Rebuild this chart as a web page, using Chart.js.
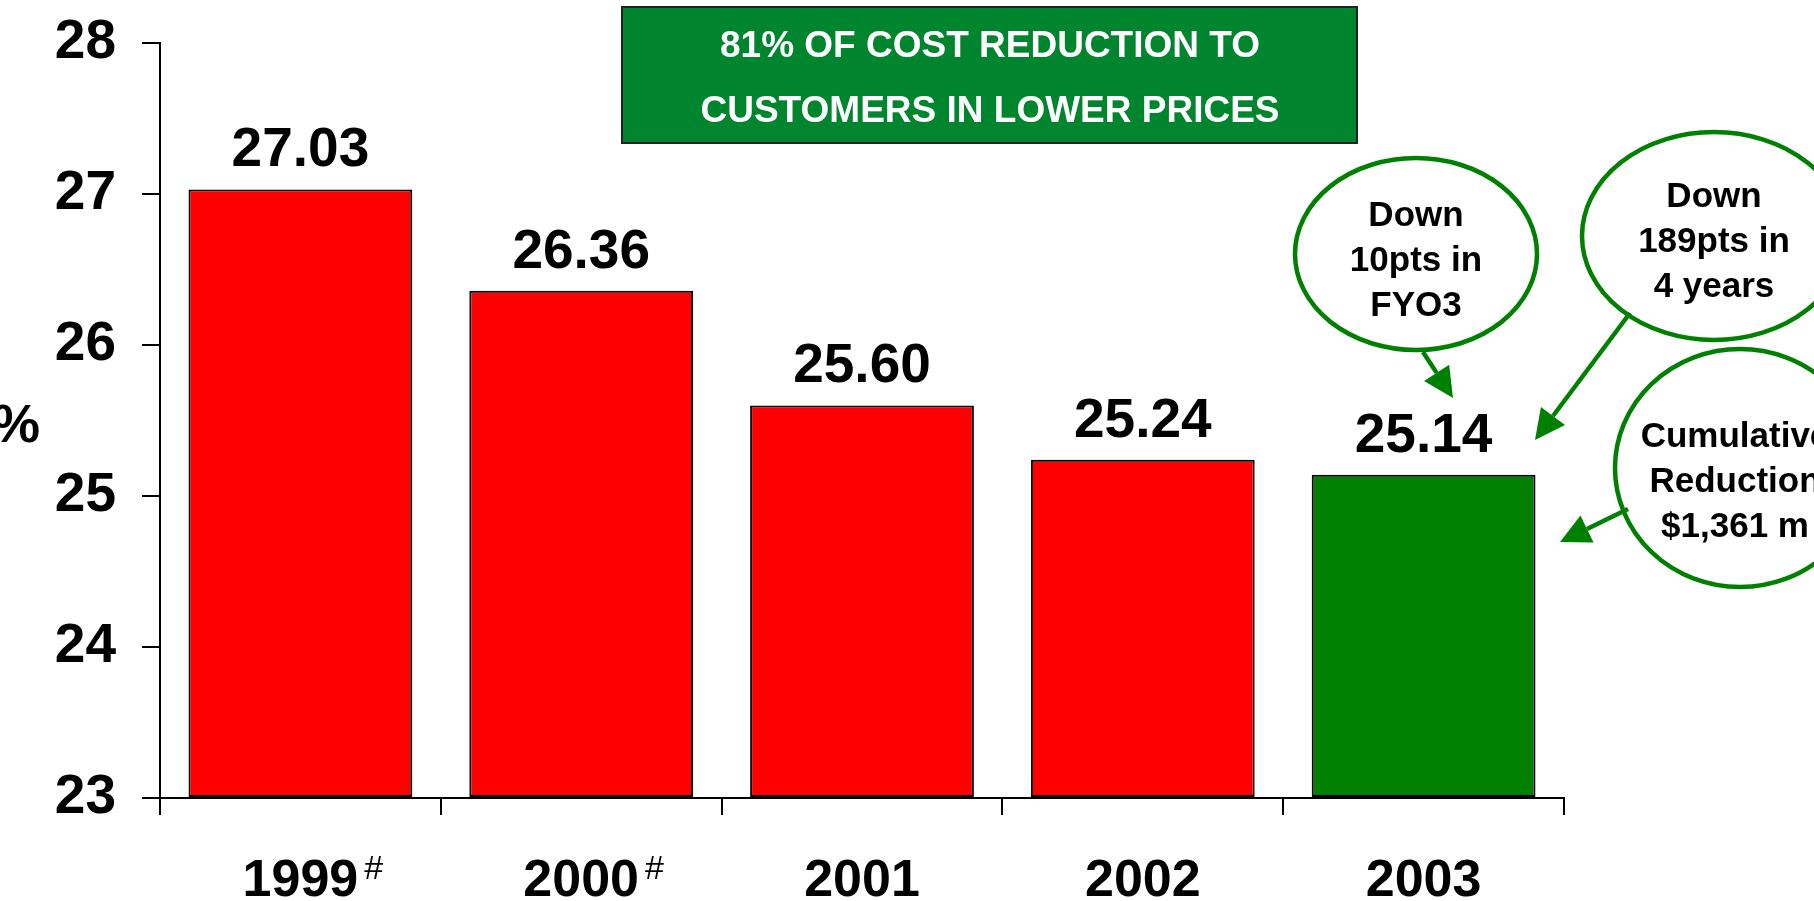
<!DOCTYPE html>
<html>
<head>
<meta charset="utf-8">
<script src="https://cdn.jsdelivr.net/npm/chart.js@4/dist/chart.umd.min.js"></script>
<style>
  html, body { margin: 0; padding: 0; background: #ffffff; }
  canvas { display: block; }
</style>
</head>
<body>
<canvas id="grafico" width="1814" height="901"></canvas>
<script>
// cost ratio by financial year
const anos = ['1999', '2000', '2001', '2002', '2003'];
const comNota = ['1999', '2000'];
const custo = [27.03, 26.36, 25.60, 25.24, 25.14];
const eixoMin = 23;
const eixoMax = 28;

const titulo = ['81% OF COST REDUCTION TO', 'CUSTOMERS IN LOWER PRICES'];
const baloes = [
    ['Down', '10pts in', 'FYO3'],
    ['Down', '189pts in', '4 years'],
    ['Cumulative', 'Reduction', '$1,361 m']
];

const FONTE = '"Liberation Sans", Arial, sans-serif';
const VERMELHO = '#ff0000';
const VERDE = '#008000';
const VERDE_CAIXA = '#00852f';

function seta(ctx, x1, y1, x2, y2) {
    const ang = Math.atan2(y2 - y1, x2 - x1);
    const comp = 30, larg = 15;
    const bx = x2 - comp * Math.cos(ang), by = y2 - comp * Math.sin(ang);
    ctx.beginPath();
    ctx.moveTo(x1, y1);
    ctx.lineTo(bx, by);
    ctx.stroke();
    ctx.beginPath();
    ctx.moveTo(x2, y2);
    ctx.lineTo(bx + larg * Math.sin(ang), by - larg * Math.cos(ang));
    ctx.lineTo(bx - larg * Math.sin(ang), by + larg * Math.cos(ang));
    ctx.closePath();
    ctx.fill();
}

function balao(ctx, cx, cy, rx, ry, linhas, tx, base0) {
    ctx.strokeStyle = VERDE;
    ctx.beginPath();
    ctx.ellipse(cx, cy, rx, ry, 0, 0, Math.PI * 2);
    ctx.stroke();
    ctx.fillStyle = '#000';
    ctx.font = 'bold 35px ' + FONTE;
    ctx.textAlign = 'center';
    ctx.textBaseline = 'alphabetic';
    linhas.forEach((l, i) => ctx.fillText(l, tx, base0 + i * 45));
}

const extras = {
    id: 'extras',
    afterDraw(chart) {
        const ctx = chart.ctx;
        const meta = chart.getDatasetMeta(0);
        const x = chart.scales.x;
        ctx.save();

        // valores em cima das barras
        ctx.fillStyle = '#000';
        ctx.font = 'bold 55px ' + FONTE;
        ctx.textAlign = 'center';
        ctx.textBaseline = 'alphabetic';
        meta.data.forEach((bar, i) => {
            ctx.fillText(custo[i].toFixed(2), bar.x, bar.y - 23);
        });

        // nota # nos anos marcados
        anos.forEach((ano, i) => {
            if (!comNota.includes(ano)) return;
            ctx.font = 'bold 52px ' + FONTE;
            const w = ctx.measureText(ano).width;
            ctx.font = '34px ' + FONTE;
            ctx.textAlign = 'left';
            ctx.fillText('#', x.getPixelForTick(i) + w / 2 + 6, 879);
        });

        // unidade do eixo
        ctx.font = 'bold 54px ' + FONTE;
        ctx.textAlign = 'right';
        ctx.fillText('%', 40, 442);

        // caixa do título
        ctx.fillStyle = VERDE_CAIXA;
        ctx.fillRect(622, 7, 735, 136);
        ctx.strokeStyle = '#222';
        ctx.lineWidth = 2;
        ctx.strokeRect(622, 7, 735, 136);
        ctx.fillStyle = '#fff';
        ctx.font = 'bold 37px ' + FONTE;
        ctx.textAlign = 'center';
        ctx.fillText(titulo[0], 990, 57);
        ctx.fillText(titulo[1], 990, 122);

        // balões e setas
        ctx.lineWidth = 4.5;
        balao(ctx, 1416, 254, 121, 96, baloes[0], 1416, 226);
        balao(ctx, 1714, 236, 132, 104, baloes[1], 1714, 207);
        balao(ctx, 1740, 468, 125, 119, baloes[2], 1735, 447);

        ctx.strokeStyle = VERDE;
        ctx.fillStyle = VERDE;
        seta(ctx, 1423, 352, 1453, 398);
        seta(ctx, 1630, 313, 1535, 440);
        seta(ctx, 1628, 509, 1560, 542);

        ctx.restore();
    }
};

new Chart(document.getElementById('grafico'), {
    type: 'bar',
    data: {
        labels: anos,
        datasets: [{
            data: custo,
            base: eixoMin,
            backgroundColor: c => c.dataIndex === anos.length - 1 ? VERDE : VERMELHO,
            borderColor: '#000',
            borderWidth: 2,
            borderSkipped: false,
            categoryPercentage: 1,
            barPercentage: 0.797
        }]
    },
    options: {
        responsive: false,
        animation: false,
        devicePixelRatio: 1,
        layout: { padding: { top: 43, right: 250, bottom: 0, left: 0 } },
        plugins: { legend: { display: false }, tooltip: { enabled: false } },
        scales: {
            x: {
                afterFit: s => { s.height = 103; },
                grid: { offset: true, drawOnChartArea: false, tickLength: 17, color: '#000', lineWidth: 2 },
                border: { color: '#000', width: 2 },
                ticks: { color: '#000', padding: 35, font: { family: FONTE, size: 52, weight: 'bold' } }
            },
            y: {
                min: eixoMin,
                max: eixoMax,
                // sem folga extra em cima/embaixo por causa dos rótulos
                afterFit: s => { s.width = 160; s.paddingTop = 0; s.paddingBottom = 0; },
                grid: { drawOnChartArea: false, tickLength: 18, color: '#000', lineWidth: 2 },
                border: { color: '#000', width: 2 },
                ticks: { stepSize: 1, color: '#000', padding: 26, font: { family: FONTE, size: 55, weight: 'bold' } }
            }
        }
    },
    plugins: [extras]
});
</script>
</body>
</html>
